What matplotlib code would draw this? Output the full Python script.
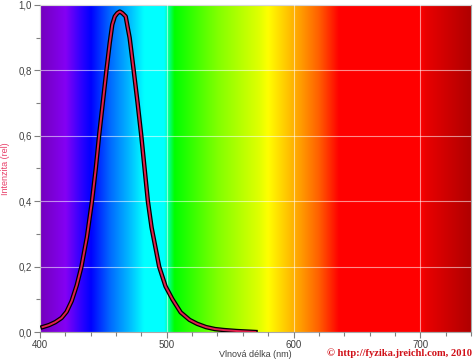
import numpy as np
import matplotlib
matplotlib.use("Agg")
import matplotlib.pyplot as plt
from matplotlib.colors import LinearSegmentedColormap
from matplotlib.ticker import MultipleLocator, FuncFormatter

# ---- data ----
wavelength = [402, 407, 412, 417, 421, 425, 429, 432.7, 437, 441, 444, 446.6, 449.5,
              452.4, 455, 457, 459, 461, 463, 465, 467.6, 469, 470.7, 473.9, 477,
              479.9, 482.5, 485.1, 488, 491, 494, 499, 504.5, 511, 518, 524, 531,
              538, 545, 555, 570]
intensity = [0.015, 0.021, 0.03, 0.043, 0.062, 0.095, 0.143, 0.2, 0.29, 0.4, 0.5, 0.6,
             0.7, 0.8, 0.884, 0.94, 0.965, 0.975, 0.98, 0.975, 0.965, 0.935, 0.9,
             0.8, 0.7, 0.6, 0.5, 0.4, 0.32, 0.26, 0.2, 0.14, 0.1, 0.06, 0.037, 0.025,
             0.015, 0.009, 0.006, 0.003, 0.0]

# spectrum colour stops (nm -> colour)
spec_nm = [400, 420, 432, 440, 455, 470, 482, 498, 506, 540, 573, 580, 605, 620, 636, 700, 705, 740]
spec_col = ["#7400bc", "#8400f4", "#3000ff", "#0000ff", "#0068ff", "#00b8ff", "#00ffff",
            "#00ffff", "#00ff00", "#80ff00", "#e0ff00", "#ffff00", "#ffa000", "#ff6000",
            "#ff0000", "#ff0000", "#e80000", "#b00000"]

x_min, x_max = 400, 740

fig = plt.figure(figsize=(4.74, 3.62), dpi=100)
ax = fig.add_axes([40 / 474, 30 / 362, 431 / 474, 327 / 362])

# background spectrum
stops = [(n - x_min) / (x_max - x_min) for n in spec_nm]
cmap = LinearSegmentedColormap.from_list("spec", list(zip(stops, spec_col)), N=512)
grad = np.linspace(0, 1, 1024).reshape(1, -1)
ax.imshow(grad, cmap=cmap, aspect="auto", extent=[x_min, x_max, 0, 1],
          interpolation="bilinear", zorder=0)

ax.set_xlim(x_min, x_max)
ax.set_ylim(0, 1)

# grid
ax.xaxis.set_major_locator(MultipleLocator(100))
ax.xaxis.set_minor_locator(MultipleLocator(20))
ax.yaxis.set_major_locator(MultipleLocator(0.2))
ax.yaxis.set_minor_locator(MultipleLocator(0.1))
ax.grid(True, which="major", color="white", alpha=0.55, linewidth=0.8, zorder=1)
ax.set_axisbelow(False)

# curve: black with red on top
ax.plot(wavelength, intensity, color="black", linewidth=3.2, zorder=3,
        solid_joinstyle="round")
ax.plot(wavelength, intensity, color="#e0204c", linewidth=1.4, zorder=4,
        solid_joinstyle="round")

ax.yaxis.set_major_formatter(FuncFormatter(lambda v, p: f"{v:.1f}".replace(".", ",")))
ax.tick_params(which="both", direction="out", colors="#808080", labelcolor="#404040",
               labelsize=7, width=0.8)
ax.tick_params(which="major", length=4, pad=2)
ax.tick_params(which="minor", length=3)
for s in ax.spines.values():
    s.set_color("#a8a8a8")
    s.set_linewidth(0.8)

for lab in ax.get_xticklabels() + ax.get_yticklabels():
    lab.set_family("Liberation Sans")

ax.set_ylabel("Intenzita (rel)", color="#e8406a", fontsize=6.5, family="Liberation Sans",
              labelpad=6)
ax.set_xlabel("Vlnová délka (nm)", color="#404040", fontsize=6.5, family="Liberation Sans",
              labelpad=0)

fig.text(472 / 474, 4 / 362, "© http://fyzika.jreichl.com, 2010", color="#d01018",
         fontsize=7.6, fontweight="bold", family="Liberation Serif", ha="right", va="bottom")

fig.savefig("out.png", dpi=100)
